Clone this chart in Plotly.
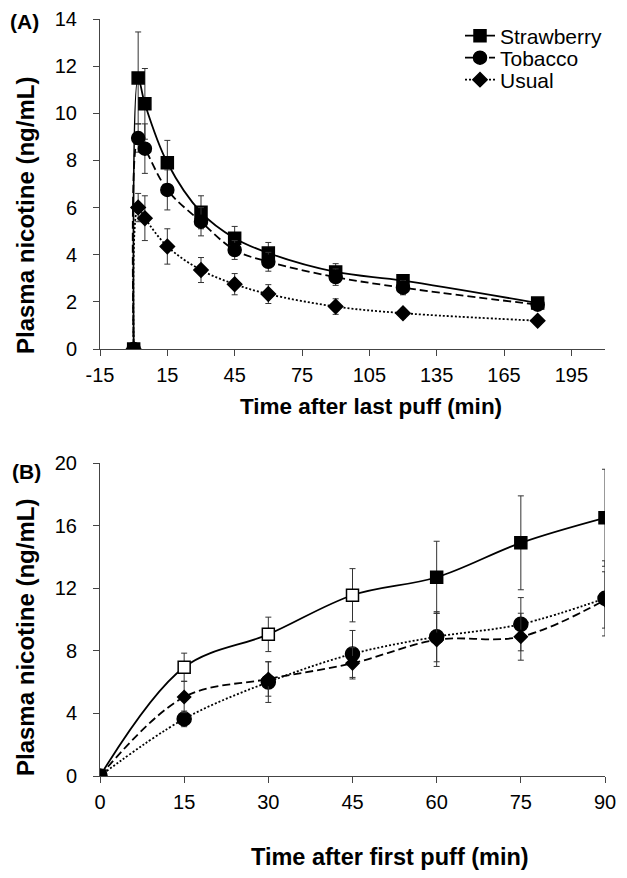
import plotly.graph_objects as go

# ---------------- Panel A data ----------------
time_a = [0, 2, 5, 15, 30, 45, 60, 90, 120, 180]
straw_a = [0, 11.5, 10.4, 7.9, 5.8, 4.7, 4.07, 3.27, 2.9, 1.95]
straw_a_err = [0, 1.95, 1.5, 0.95, 0.7, 0.5, 0.45, 0.35, 0.25, 0.2]
tob_a = [0, 8.95, 8.5, 6.75, 5.4, 4.2, 3.7, 3.05, 2.6, 1.88]
tob_a_err = [0, 0.6, 1.05, 0.85, 0.6, 0.4, 0.4, 0.35, 0.3, 0.15]
usual_a = [0, 6.0, 5.55, 4.35, 3.35, 2.75, 2.33, 1.8, 1.52, 1.2]
usual_a_err = [0, 0.6, 0.95, 0.75, 0.53, 0.45, 0.4, 0.33, 0.2, 0.1]

# ---------------- Panel B data ----------------
time_b = [0, 15, 30, 45, 60, 75, 90]
straw_b = [0, 6.95, 9.05, 11.55, 12.7, 14.9, 16.5]
straw_b_err = [0, 0.9, 1.1, 1.7, 2.3, 3.0, 3.1]
tob_b = [0, 3.65, 6.0, 7.8, 8.9, 9.7, 11.35]
tob_b_err = [0, 0.5, 1.3, 1.5, 1.6, 1.7, 2.4]
usual_b = [0, 5.05, 6.2, 7.2, 8.7, 8.9, 11.25]
usual_b_err = [0, 1.0, 1.1, 1.0, 1.7, 1.5, 1.8]
straw_b_open_idx = [1, 2, 3]

xticks_a = [-15, 15, 45, 75, 105, 135, 165, 195]
xticklabels_a = ["-15", "15", "45", "75", "105", "135", "165", "195"]
yticks_a = [0, 2, 4, 6, 8, 10, 12, 14]
xticks_b = [0, 15, 30, 45, 60, 75, 90]
yticks_b = [0, 4, 8, 12, 16, 20]

FONT = "Liberation Sans, Arial, sans-serif"
ERR = dict(type="data", thickness=1, width=3, color="#333")
DASH = "8px,4px"
DOT = "2px,2px"

W, H = 627, 878
SHIFT = 8  # page body margin offset
ml, mr, mt, mb = 100 - SHIFT, 22 + SHIFT, 2, 20
pw, ph = W - ml - mr, H - mt - mb


def py(pix):
    return (H - mb - (pix - SHIFT)) / ph


def px(pix):
    return (pix - SHIFT - ml) / pw


fig = go.Figure()


def add(x, y, err, name, symbol, size, dash, xa, ya, legend, fills=None):
    fig.add_trace(go.Scatter(
        x=x, y=y, name=name, mode="lines+markers",
        line=dict(color="black", width=1.8, dash=dash, shape="spline", smoothing=1.0),
        marker=dict(symbol=symbol, size=size,
                    color=fills if fills is not None else "black",
                    line=dict(color="black", width=1.5)),
        error_y=dict(array=err, **ERR),
        xaxis=xa, yaxis=ya, showlegend=legend is not None,
        legend=legend if legend else "legend",
    ))


add(time_a, straw_a, straw_a_err, "Strawberry", "square", 12, "solid", "x", "y", "legend")
add(time_a, tob_a, tob_a_err, "Tobacco", "circle", 13, DASH, "x", "y", "legend2")
add(time_a, usual_a, usual_a_err, "Usual", "diamond", 11, DOT, "x", "y", "legend3")

straw_b_fill = ["white" if i in straw_b_open_idx else "black" for i in range(len(time_b))]
add(time_b, tob_b, tob_b_err, "Tobacco", "circle", 14, DOT, "x2", "y2", None)
add(time_b, usual_b, usual_b_err, "Usual", "diamond", 10, DASH, "x2", "y2", None)
add(time_b, straw_b, straw_b_err, "Strawberry", "square", 12, "solid", "x2", "y2", None, straw_b_fill)

axis_common = dict(
    showline=True, linecolor="#444", linewidth=1, ticks="outside", ticklen=6,
    tickcolor="#444", showgrid=False, zeroline=False, automargin=False,
    tickfont=dict(family=FONT, size=20, color="black"),
)

LEG = dict(xanchor="left", yanchor="middle", font=dict(family=FONT, size=21, color="black"),
           bgcolor="rgba(0,0,0,0)", itemwidth=30)

fig.update_layout(
    width=W, height=H,
    margin=dict(l=ml, r=mr, t=mt, b=mb, autoexpand=False),
    paper_bgcolor="white", plot_bgcolor="white",
    font=dict(family=FONT, color="black"),
    xaxis=dict(domain=[0, 1], range=[-15, 210], tickvals=xticks_a, ticktext=xticklabels_a,
               anchor="y", ticklabelstandoff=2, **axis_common),
    yaxis=dict(domain=[py(349), py(19)], range=[0, 14], tickvals=yticks_a, anchor="x",
               ticklabelstandoff=12, **axis_common),
    xaxis2=dict(domain=[0, 1], range=[0, 90], tickvals=xticks_b, anchor="y2",
                ticklabelstandoff=2, **axis_common),
    yaxis2=dict(domain=[py(776), py(463)], range=[0, 20], tickvals=yticks_b, anchor="x2",
                ticklabelstandoff=12, **axis_common),
    legend=dict(x=px(460), y=py(36), **LEG),
    legend2=dict(x=px(460), y=py(58), **LEG),
    legend3=dict(x=px(460), y=py(80), **LEG),
)

TITLE = dict(family=FONT, size=21, color="black", weight="bold")
ann = [
    dict(text="(A)", x=px(24), y=py(22), font=TITLE),
    dict(text="(B)", x=px(26), y=py(472), font=TITLE),
    dict(text="Plasma nicotine (ng/mL)", x=px(25), y=py(216), textangle=-90, font=dict(TITLE, size=24)),
    dict(text="Plasma nicotine (ng/mL)", x=px(25), y=py(638), textangle=-90, font=dict(TITLE, size=24)),
    dict(text="Time after last puff (min)", x=px(371), y=py(406), font=dict(TITLE, size=22.5)),
    dict(text="Time after first puff (min)", x=px(390), y=py(857), font=dict(TITLE, size=23.5)),
]
for a in ann:
    fig.add_annotation(xref="paper", yref="paper", showarrow=False,
                       xanchor="center", yanchor="middle", **a)

fig.write_html("out.html")
